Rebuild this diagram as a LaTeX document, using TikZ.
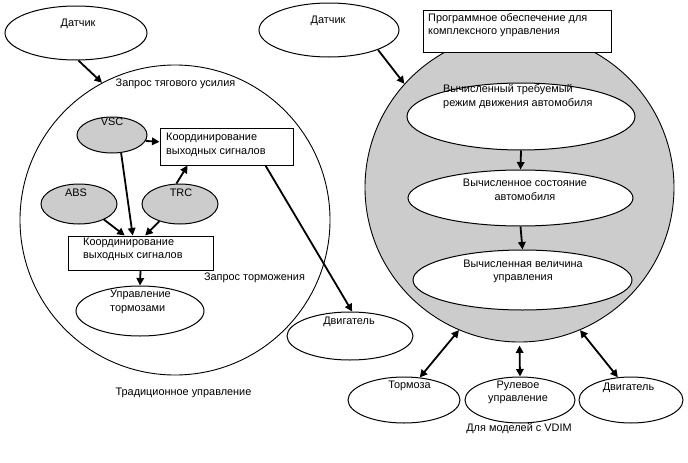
\documentclass[tikz,border=0pt]{standalone}
\usepackage{fontspec}
\setmainfont{Liberation Sans}
\usetikzlibrary{shapes.geometric,arrows.meta}
\definecolor{fillgray}{RGB}{204,204,204}
\begin{document}
\begin{tikzpicture}[x=1pt,y=-1pt,
  every node/.style={font=\fontsize{10.9}{13.5}\selectfont},
  ell/.style={draw, ellipse, line width=1pt, fill=white, inner sep=0pt},
  gell/.style={ell, fill=fillgray},
  boxn/.style={draw, rectangle, line width=1pt, fill=white, inner sep=0pt},
  bigc/.style={draw, circle, line width=0.9pt, inner sep=0pt},
  lbl/.style={inner sep=0pt, align=left},
  lblc/.style={inner sep=0pt, align=center},
  arr/.style={line width=1.8pt, -{Triangle[length=7.5pt,width=7.5pt]}},
  darr/.style={line width=1.8pt, {Triangle[length=7.5pt,width=7.5pt]}-{Triangle[length=7.5pt,width=7.5pt]}},
]
\useasboundingbox (0,0) rectangle (688,463);
\fill[white] (0,0) rectangle (688,463);

% ---------- left part ----------
\node[bigc, minimum size=310pt] (bigL) at (175,220) {};
\node[ell, minimum width=142pt, minimum height=54pt] (sL) at (76,33) {};
\node[lblc] at (78,24) {Датчик};
\node[lblc] at (175.5,84) {Запрос тягового усилия};

\node[gell, minimum width=70pt, minimum height=36pt] (vsc) at (112,135) {};
\node[lblc] at (112,122) {VSC};
\node[gell, minimum width=76pt, minimum height=40pt] (abs) at (79,204) {};
\node[lblc] at (76,193) {ABS};
\node[gell, minimum width=76pt, minimum height=40pt] (trc) at (180,204) {};
\node[lblc] at (181,193) {TRC};

\node[boxn, minimum width=133pt, minimum height=37pt] (box1) at (226.5,146.5) {};
\node[lbl, anchor=west] at (166,145) {Координирование\\выходных сигналов};
\node[boxn, minimum width=145pt, minimum height=34pt] (box2) at (140.5,253) {};
\node[lbl, anchor=west] at (83,249.5) {Координирование\\выходных сигналов};

\node[ell, minimum width=128pt, minimum height=50pt] (ut) at (140,311) {};
\node[lbl, anchor=west] at (110,302) {Управление\\тормозами};

\node[lblc] at (254.5,278) {Запрос торможения};

\node[ell, minimum width=126pt, minimum height=48pt] (engL) at (350,336) {};
\node[lblc] at (349,322) {Двигатель};

\node[lblc] at (183.5,393) {Традиционное управление};

\draw[arr] (sL.-85) -- (bigL.118);
\draw[arr] (vsc.-10) -- (box1.176);
\draw[arr] (trc.100) -- (box1.-154);
\draw[arr] (abs.-32) -- (box2.132);
\draw[arr] (vsc.-63) -- (box2.114);
\draw[arr] (trc.-140) -- (box2.75);
\draw[arr] (box2.south) -- (ut.north);
\draw[arr] (box1.-26) -- (engL.85);

% ---------- right part ----------
\node[bigc, fill=fillgray, minimum size=309pt] (bigR) at (519.5,187.5) {};
\node[boxn, minimum width=188pt, minimum height=42pt] (prog) at (517,31) {};
\node[lbl, anchor=west] at (428,25) {Программное обеспечение для\\комплексного управления};

\node[ell, minimum width=140pt, minimum height=54pt] (sR) at (329,30) {};
\node[lblc] at (328,21) {Датчик};

\node[ell, minimum width=228pt, minimum height=67pt] (e1) at (521,116.5) {};
\node[lbl, anchor=west] at (443,96.5) {Вычисленный требуемый\\режим движения автомобиля};
\node[ell, minimum width=225pt, minimum height=56pt] (e2) at (520.5,198) {};
\node[lblc] at (525,190) {Вычисленное состояние\\автомобиля};
\node[ell, minimum width=219pt, minimum height=60pt] (e3) at (522.5,280) {};
\node[lblc] at (523,271.5) {Вычисленная величина\\управления};

\node[ell, minimum width=112pt, minimum height=46pt] (tor) at (404,400) {};
\node[lblc] at (409.5,386) {Тормоза};
\node[ell, minimum width=110pt, minimum height=46pt] (rul) at (520,400) {};
\node[lblc] at (518,392.5) {Рулевое\\управление};
\node[ell, minimum width=104pt, minimum height=46pt] (dvR) at (631,400) {};
\node[lblc] at (628.5,388) {Двигатель};

\node[lblc] at (519,429) {Для моделей с VDIM};

\draw[arr] (sR.-22) -- (bigR.138);
\draw[arr] (e1.south) -- (e2.north);
\draw[arr] (e2.south) -- (e3.north);
\draw[darr] (bigR.-113) -- (tor.55);
\draw[darr] ([yshift=-3pt]bigR.south) -- (rul.north);
\draw[darr] (bigR.-67) -- (dvR.120);
\end{tikzpicture}
\end{document}
